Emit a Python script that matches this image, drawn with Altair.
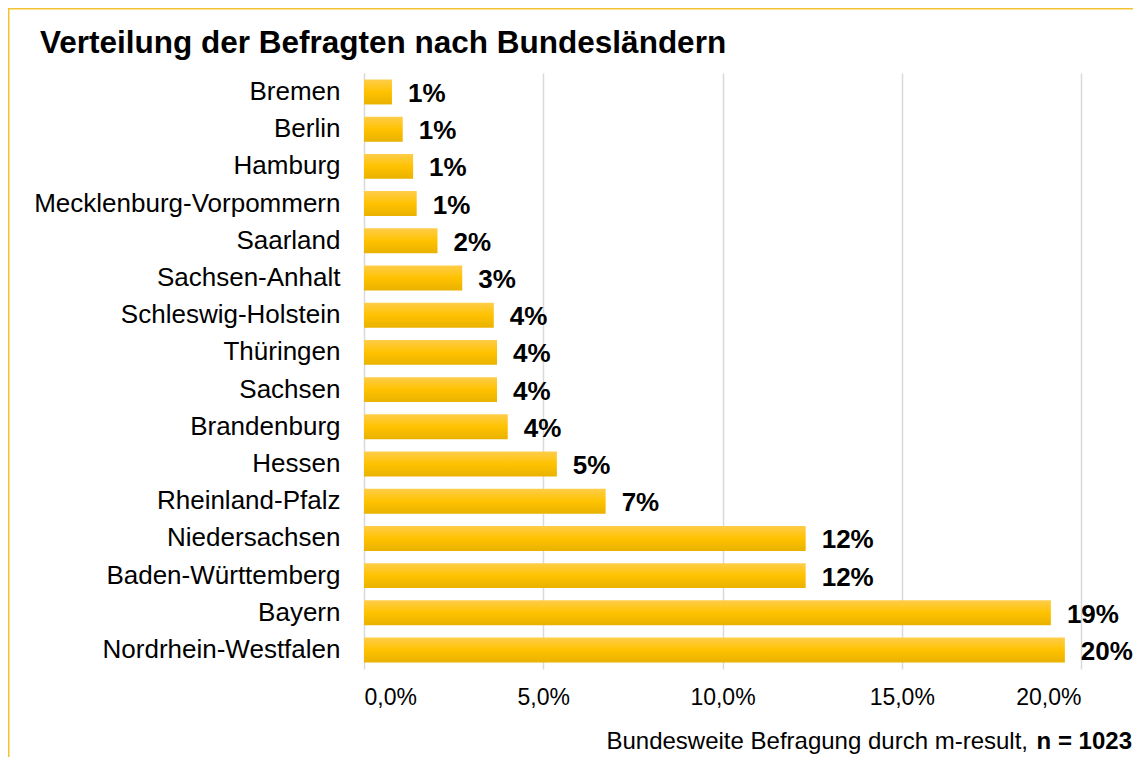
import altair as alt
import pandas as pd

# ---- data ----
states = ["Bremen", "Berlin", "Hamburg", "Mecklenburg-Vorpommern", "Saarland",
          "Sachsen-Anhalt", "Schleswig-Holstein", "Thüringen", "Sachsen",
          "Brandenburg", "Hessen", "Rheinland-Pfalz", "Niedersachsen",
          "Baden-Württemberg", "Bayern", "Nordrhein-Westfalen"]
shares = [0.0078, 0.0108, 0.0137, 0.0147, 0.0205,
          0.0274, 0.0362, 0.0371, 0.0371,
          0.0401, 0.0538, 0.0674, 0.1232,
          0.1232, 0.1916, 0.1955]
x_ticks = [0.0, 0.05, 0.10, 0.15, 0.20]
title_text = "Verteilung der Befragten nach Bundesländern"
source_text = "Bundesweite Befragung durch m-result,"
n_text = "n = 1023"

df = pd.DataFrame({"Bundesland": states, "Anteil": shares})

FONT = "Liberation Sans"
W, H = 717, 596
PAD = {"left": 356, "top": 65, "right": 52, "bottom": 88}

gradient = alt.Gradient(
    gradient="linear",
    stops=[alt.GradientStop(color="#FFCD4A", offset=0),
           alt.GradientStop(color="#FFC200", offset=0.5),
           alt.GradientStop(color="#E9B200", offset=1)],
    x1=0, x2=0, y1=0, y2=1)

y_enc = alt.Y("Bundesland:N", sort=states,
              scale=alt.Scale(paddingInner=0.33, paddingOuter=0.175),
              axis=alt.Axis(title=None, domain=False, ticks=False, tickSize=0,
                            labelPadding=24, labelFont=FONT, labelFontSize=26,
                            labelColor="#000000", labelLimit=500))
x_enc = alt.X("Anteil:Q", scale=alt.Scale(domain=[0, 0.2], nice=False, zero=True),
              axis=alt.Axis(title=None, values=x_ticks,
                            labelExpr="replace(format(datum.value*100, '.1f'), '.', ',') + '%'",
                            domain=False, ticks=False, tickSize=0, grid=True,
                            gridColor="#D9D9D9", gridWidth=1.5,
                            labelFont=FONT, labelFontSize=23, labelColor="#000000",
                            labelPadding=17))

base = alt.Chart(df)
bars = base.mark_bar(fill=gradient).encode(x=x_enc, y=y_enc)
values = base.mark_text(align="left", baseline="middle", dx=16, dy=2, font=FONT,
                        fontSize=26, fontWeight="bold", color="#000000").encode(
    x="Anteil:Q", y=alt.Y("Bundesland:N", sort=states),
    text=alt.Text("Anteil:Q", format=".0%"))

one = alt.Data(values=[{"k": 1}])
frame_left = alt.Chart(one).mark_rule(color="#F2C230", strokeWidth=2).encode(
    x=alt.value(-355.5), y=alt.value(-66), y2=alt.value(H + 120))
frame_top = alt.Chart(one).mark_rule(color="#F2C230", strokeWidth=2).encode(
    x=alt.value(-357), x2=alt.value(W + 120), y=alt.value(-64.5))

title = alt.Chart(one).mark_text(text=title_text, align="left", baseline="alphabetic",
                                 font=FONT, fontSize=31.5, fontWeight="bold",
                                 color="#000000").encode(
    x=alt.value(-324), y=alt.value(-20))

foot1 = alt.Chart(one).mark_text(text=source_text, align="right", baseline="alphabetic",
                                 font=FONT, fontSize=24, color="#000000").encode(
    x=alt.value(W - 53), y=alt.value(676))
foot2 = alt.Chart(one).mark_text(text=n_text, align="right", baseline="alphabetic",
                                 font=FONT, fontSize=24, fontWeight="bold",
                                 color="#000000").encode(
    x=alt.value(W + 51), y=alt.value(676))

chart = alt.layer(bars, values, frame_left, frame_top, title, foot1, foot2).properties(
    width=W, height=H,
    autosize=alt.AutoSizeParams(type="none"),
    padding=PAD,
    background="#FFFFFF",
).configure_view(stroke=None)

chart.save("out.html", embed_options={"renderer": "svg", "actions": False})
